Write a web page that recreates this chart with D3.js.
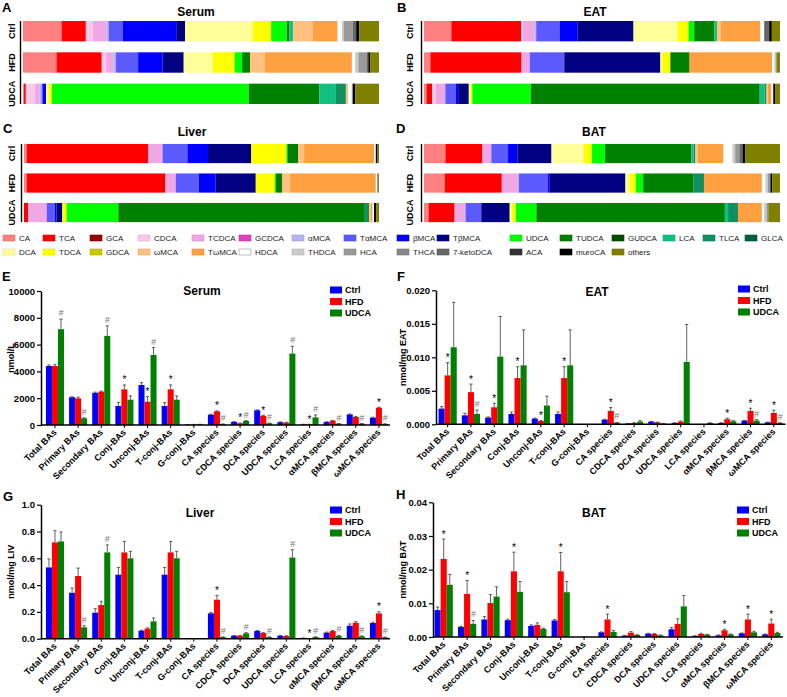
<!DOCTYPE html>
<html><head><meta charset="utf-8">
<script src="https://cdn.jsdelivr.net/npm/d3@7"></script>
<style>
body{margin:0;background:#fff}
svg{display:block}
text{font-family:"Liberation Sans",Arial,Helvetica,sans-serif}
</style>
</head><body>
<svg id="c" width="787" height="697"></svg>
<script>
// ---------- DATA ----------
const species = ["CA","TCA","GCA","CDCA","TCDCA","GCDCA","αMCA","TαMCA","βMCA","TβMCA","DCA","TDCA","GDCA","UDCA","TUDCA","GUDCA","LCA","TLCA","GLCA","ωMCA","TωMCA","HDCA","THDCA","HCA","THCA","7-ketoDCA","ACA","muroCA","others"];
const groups = ["Ctrl","HFD","UDCA"];

// composition (%), in species order
const serumCtrlPct = [10.8,6.8,0,1.9,3.9,0,0.6,3.9,15.0,2.5,18.9,5.2,0,4.4,0.7,0,1.0,0,0,5.5,7.0,1.2,0.5,2.6,0,0.9,0,0.9,5.5];
const serumHFDPct  = [9.4,12.7,0,1.2,2.1,0,0.7,6.2,6.9,5.9,8.2,6.1,0,2.1,2.2,0,0,0,0,4.2,24.4,0.9,0.9,2.3,0,0.5,0,0.5,2.5];
const serumUDCAPct = [0.3,0.5,0,2.5,1.4,0,0.5,0.3,1.0,0,0.7,0.9,0,55.3,19.8,0,4.7,2.8,0,0.7,0,0.9,0.3,0,0,0,0,0.7,6.7];
const eatCtrlPct   = [7.7,19.7,0,0.5,3.2,0,0.5,6.7,5.0,15.7,12.4,3.1,0,1.6,5.7,0,0.7,0,0,1.1,11.1,1.1,0,0,0,1.4,0,0.75,2.3];
const eatHFDPct    = [1.8,25.6,0,0,2.3,0,0,9.7,0,27.0,0.5,2.3,0,0,5.4,0,0,0,0,0,23.2,0.6,0.4,0.3,0,0,0,0,0.9];
const eatUDCAPct   = [0.7,1.6,0,0.9,2.8,0,0,2.9,0.7,3.0,0.5,0.5,0,16.4,64.4,0,1.4,0.5,0,0.3,1.1,0.5,0,0,0,0,0,0.5,1.4];
const liverCtrlPct = [0.75,34.3,0,0,4.0,0,0,7.0,5.8,12.2,0,9.9,0,0.3,3.0,0,0,0,0,1.7,19.7,0.5,0,0,0,0,0,0.5,0.4];
const liverHFDPct  = [0.75,39.2,0,0,2.9,0,0,6.5,4.8,11.3,0,5.4,0,0.3,1.8,0,0,0,0,2.2,24.2,0.5,0,0,0,0,0,0.2,0.2];
const liverUDCAPct = [0,1.2,0,0,5.2,0,0,2.3,0.5,1.6,0,1.2,0,14.6,69.5,0,0,1.2,0,0.5,0.5,0.4,0,0,0,0,0,0.6,0.8];
const batCtrlPct   = [6.0,10.4,0,0,2.5,0,0,4.7,2.6,9.6,9.1,2.2,0,3.7,24.2,0,0.7,0.5,0,0.6,7.3,2.5,0.75,1.2,0,0.9,0,0.7,9.8];
const batHFDPct    = [5.8,16.1,0,0,4.8,0,0,8.2,0.5,21.3,1.2,1.7,0,2.1,14.2,0,0,2.9,0,0,16.3,1.0,0.7,0.7,0,0,0,0.5,2.2];
const batUDCAPct   = [1.3,7.3,0,0,3.1,0,0,4.4,0,8.0,0.5,1.2,0,5.8,53.0,0,0.9,2.8,0,0,6.7,0.6,0.7,0.5,0,0,0,0,3.3];

const legendRow1 = ["CA","TCA","GCA","CDCA","TCDCA","GCDCA","αMCA","TαMCA","βMCA","TβMCA","UDCA","TUDCA","GUDCA","LCA","TLCA","GLCA"];
const legendRow2 = ["DCA","TDCA","GDCA","ωMCA","TωMCA","HDCA","THDCA","HCA","THCA","7-ketoDCA","ACA","muroCA","others"];

const categories = ["Total BAs","Primary BAs","Secondary BAs","Conj-BAs","Unconj-BAs","T-conj-BAs","G-conj-BAs","CA species","CDCA species","DCA species","UDCA species","LCA species","αMCA species","βMCA species","ωMCA species"];

const serumCtrl = [4400,2070,2400,1420,2990,1420,30,770,230,1100,210,50,220,790,550];
const serumCtrlSem = [80,40,50,270,170,250,5,30,20,30,20,5,20,30,30];
const serumHFD = [4400,1990,2490,2660,1740,2660,40,1020,130,680,180,50,320,600,1290];
const serumHFDSem = [100,90,40,330,380,330,5,30,20,40,20,5,20,40,40];
const serumUDCA = [7150,500,6650,1890,5230,1890,50,70,300,130,5330,570,100,100,80];
const serumUDCASem = [750,40,750,280,550,280,5,10,30,10,550,180,10,10,10];
const serumSigHFD  = ["","","","*","*","*","","*","*","*","","*","","","*"];
const serumSigUDCA = ["#","#","#","","#","","","#","#","#","#","#","#","#","#"];

const eatCtrl = [0.00234,0.00134,0.001,0.00154,0.00085,0.00154,0,0.0007,0.0001,0.0004,0.0002,0.00005,0.0002,0.00055,0.0003];
const eatCtrlSem = [0.0003,0.0003,0.0001,0.0003,0.00008,0.0003,0,0.00005,0.00002,0.00003,0.00003,0,0.00003,0.00005,0.00003];
const eatHFD = [0.0073,0.0048,0.00254,0.0069,0.0005,0.0069,0.00005,0.002,0.0002,0.0003,0.0004,0,0.00075,0.002,0.0017];
const eatHFDSem = [0.0019,0.0012,0.0006,0.0017,0.00005,0.0017,0,0.0005,0.00003,0.00003,0.0001,0,0.00015,0.0004,0.0004];
const eatUDCA = [0.0115,0.00154,0.0101,0.0088,0.0028,0.0088,0,0.00025,0.0004,0.0001,0.0093,0.0002,0.00045,0.00055,0.0002];
const eatUDCASem = [0.0067,0.0006,0.006,0.0053,0.0014,0.0053,0,0.00003,0.00015,0.00002,0.0056,0.00003,0.0001,0.00015,0.00003];
const eatSigHFD  = ["*","*","*","*","*","*","","*","","","","","*","*","*"];
const eatSigUDCA = ["","#","","","","","","#","","","","","","#","#"];

const liverCtrl = [0.532,0.343,0.194,0.478,0.06,0.478,0,0.189,0.022,0.057,0.022,0.005,0.045,0.097,0.117];
const liverCtrlSem = [0.063,0.035,0.03,0.054,0.004,0.054,0,0.006,0.002,0.004,0.002,0.001,0.004,0.013,0.006];
const liverHFD = [0.719,0.468,0.251,0.644,0.075,0.644,0,0.291,0.022,0.042,0.02,0,0.057,0.119,0.189];
const liverHFDSem = [0.087,0.059,0.028,0.082,0.006,0.082,0,0.032,0.002,0.003,0.002,0,0.004,0.008,0.012];
const liverUDCA = [0.726,0.085,0.644,0.6,0.129,0.6,0,0.012,0.04,0.012,0.605,0.012,0.022,0.018,0.01];
const liverUDCASem = [0.07,0.012,0.056,0.052,0.025,0.052,0,0.002,0.005,0.002,0.059,0.002,0.003,0.003,0.002];
const liverSigHFD  = ["","","","","","","","*","","","","*","","","*"];
const liverSigUDCA = ["","#","#","","","","","#","#","#","#","#","#","#","#"];

const batCtrl = [0.008,0.003,0.0052,0.005,0.0033,0.0049,0,0.0014,0.0004,0.001,0.0023,0.0003,0.0005,0.0011,0.0008];
const batCtrlSem = [0.0009,0.0002,0.0009,0.0003,0.0003,0.0003,0,0.0001,0.0001,0.0001,0.0005,0.0001,0.0001,0.0001,0.0001];
const batHFD = [0.0232,0.0128,0.0101,0.0195,0.0036,0.0195,0.0001,0.0052,0.0013,0.0009,0.0039,0.0009,0.002,0.0052,0.004];
const batHFDSem = [0.0059,0.004,0.0025,0.0057,0.0006,0.0056,0,0.0016,0.0003,0.0001,0.0015,0.0002,0.0003,0.0016,0.0013];
const batUDCA = [0.0155,0.0039,0.012,0.0134,0.0024,0.0133,0,0.0015,0.0006,0.0005,0.0091,0.0007,0.0008,0.0014,0.0012];
const batUDCASem = [0.0031,0.001,0.0029,0.0031,0.0002,0.0032,0,0.0004,0.0001,0.0001,0.0032,0.0001,0.0001,0.0003,0.0002];
const batSigHFD  = ["*","*","","*","","*","","*","","","","","*","*","*"];
const batSigUDCA = ["","#","","","","","","","","","","","","",""];

const serumTicks = [0,2000,4000,6000,8000,10000];
const eatTicks = [0,0.005,0.010,0.015,0.020];
const liverTicks = [0,0.2,0.4,0.6,0.8,1.0];
const batTicks = [0,0.01,0.02,0.03,0.04];

// ---------- STYLES ----------
const speciesColors = ["#ff8080","#ff0000","#990000","#f8c8e8","#f0a8e4","#e040c0","#b4b4f0","#5a5aff","#0000ff","#000080","#ffff99","#ffff00","#c8c800","#00ff00","#008000","#004c00","#10c080","#109060","#006040","#ffc080","#ffa040","#ffffff","#cccccc","#999999","#888888","#666666","#333333","#000000","#808000"];
const barColors = ["#0000ff","#ff0000","#008000"];
const color = d3.scaleOrdinal().domain(species).range(speciesColors);

const svg = d3.select("#c");
svg.append("defs").append("clipPath").attr("id","clipL")
  .append("rect").attr("x",0).attr("y",0).attr("width",390).attr("height",697);

function letter(t,x,y){
  svg.append("text").attr("x",x).attr("y",y).text(t)
    .attr("font-size",13).attr("font-weight","bold");
}

// ---------- STACKED COMPOSITION PANELS ----------
function stackPanel(o){
  const g = svg.append("g");
  const y = d3.scaleBand().domain(groups).range([o.y0,o.y1]).paddingInner(0.35).paddingOuter(0.175);
  const x = d3.scaleLinear().domain([0,100]).range([o.x0,o.x1]);
  const rows = o.data.map((arr,i)=>{
    const t = d3.sum(arr); const r = {group:groups[i]};
    species.forEach((s,j)=>r[s]=arr[j]/t*100); return r;
  });
  const series = d3.stack().keys(species)(rows);
  g.selectAll("g.s").data(series).join("g").attr("fill",d=>color(d.key))
    .selectAll("rect").data(d=>d.filter(p=>p[1]-p[0]>0)).join("rect")
    .attr("x",p=>x(p[0])).attr("width",p=>Math.max(0,x(p[1])-x(p[0])))
    .attr("y",p=>y(p.data.group)).attr("height",y.bandwidth());
  g.append("line").attr("x1",o.x0-2.5).attr("x2",o.x0-2.5)
    .attr("y1",y("Ctrl")).attr("y2",y("UDCA")+y.bandwidth())
    .attr("stroke","#000").attr("stroke-width",1.4);
  g.selectAll("text.r").data(groups).join("text")
    .attr("transform",d=>`translate(${o.lx},${y(d)+y.bandwidth()/2}) rotate(-90)`)
    .attr("text-anchor","middle").attr("dy","0.35em")
    .attr("font-size",9).attr("font-weight","bold").text(d=>d);
  g.append("text").attr("x",o.tx).attr("y",o.ty).attr("text-anchor","middle")
    .attr("font-size",12).attr("font-weight","bold").text(o.title);
}

stackPanel({data:[serumCtrlPct,serumHFDPct,serumUDCAPct],x0:23,x1:379,y0:15.5,y1:109.5,lx:12,title:"Serum",tx:196,ty:15.5});
stackPanel({data:[eatCtrlPct,eatHFDPct,eatUDCAPct],x0:424,x1:780,y0:15.5,y1:109.5,lx:410,title:"EAT",tx:595,ty:15.5});
stackPanel({data:[liverCtrlPct,liverHFDPct,liverUDCAPct],x0:24,x1:379,y0:138.8,y1:227.3,lx:12,title:"Liver",tx:192,ty:136});
stackPanel({data:[batCtrlPct,batHFDPct,batUDCAPct],x0:424,x1:780,y0:138.8,y1:227.3,lx:410,title:"BAT",tx:594,ty:136});

letter("A",2,12); letter("B",397,12); letter("C",3,133); letter("D",396,133);

// ---------- SPECIES LEGEND ----------
const legendColX = [3,43,90,138,192,239,292,344,397,437,510,560,612,663,703,745];
function legendRow(names,yc){
  const g = svg.append("g").selectAll("g").data(names).join("g")
    .attr("transform",(d,i)=>`translate(${legendColX[i]},${yc})`);
  g.append("rect").attr("x",0).attr("y",-3).attr("width",12).attr("height",6)
    .attr("fill",d=>color(d)).attr("stroke",d=>d==="HDCA"?"#999":d3.color(color(d)).darker(0.4)).attr("stroke-width",0.6);
  g.append("text").attr("x",16).attr("dy","0.35em").attr("font-size",8).attr("fill","#222").text(d=>d);
}
legendRow(legendRow1,238);
legendRow(legendRow2,252);

// ---------- GROUPED BAR PANELS ----------
function barPanel(o){
  const g = svg.append("g");
  if(o.clip) g.attr("clip-path","url(#clipL)");
  const x = d3.scaleBand().domain(categories).range([o.x0,o.x1]).paddingInner(0.22).paddingOuter(0.11);
  const xi = d3.scaleBand().domain(groups).range([0,x.bandwidth()]);
  const y = d3.scaleLinear().domain([0,o.ticks[o.ticks.length-1]]).range([o.yb,o.yt]);
  groups.forEach((gr,k)=>{
    const data = categories.map((c,i)=>({c,v:o.mean[k][i],e:o.sem[k][i],s:o.sig[k]?o.sig[k][i]:""}));
    const cx = d=>x(d.c)+xi(gr)+xi.bandwidth()/2;
    g.append("g").selectAll("rect").data(data).join("rect")
      .attr("x",d=>x(d.c)+xi(gr)).attr("width",xi.bandwidth())
      .attr("y",d=>y(d.v)).attr("height",d=>y(0)-y(d.v)).attr("fill",barColors[k]);
    const eg = g.append("g").attr("stroke","#3a3a3a").attr("stroke-width",0.8);
    const ed = data.filter(d=>d.e>0);
    eg.selectAll("line.v").data(ed).join("line").attr("x1",cx).attr("x2",cx)
      .attr("y1",d=>y(d.v)).attr("y2",d=>y(d.v+d.e));
    eg.selectAll("line.c").data(ed).join("line").attr("x1",d=>cx(d)-1.6).attr("x2",d=>cx(d)+1.6)
      .attr("y1",d=>y(d.v+d.e)).attr("y2",d=>y(d.v+d.e));
    g.append("g").selectAll("text").data(data.filter(d=>d.s)).join("text")
      .attr("x",cx).attr("y",d=>y(d.v+d.e)-(d.s==="*"?1.5:3))
      .attr("text-anchor","middle")
      .attr("font-size",d=>d.s==="*"?10:9)
      .attr("font-style",d=>d.s==="#"?"italic":"normal")
      .attr("fill",d=>d.s==="*"?"#000":"#777").text(d=>d.s);
  });
  // y axis
  const ya = g.append("g").attr("transform",`translate(${o.ax},0)`)
    .call(d3.axisLeft(y).tickValues(o.ticks).tickFormat(d3.format(o.fmt)).tickSize(4).tickSizeOuter(0));
  ya.select(".domain").attr("stroke-width",1.5);
  ya.selectAll(".tick line").attr("stroke-width",1.2);
  ya.selectAll(".tick text").attr("font-size",9.5).attr("font-weight","bold").attr("x",-6)
    .style("font-family",'"Liberation Sans",Arial,sans-serif');
  // x axis
  const xa = g.append("g").attr("transform",`translate(0,${o.yb})`)
    .call(d3.axisBottom(x).tickSize(3).tickSizeOuter(0));
  xa.select(".domain").remove();
  xa.selectAll(".tick line").attr("stroke-width",1);
  xa.selectAll(".tick text").attr("font-size",9).attr("font-weight","bold")
    .style("font-family",'"Liberation Sans",Arial,sans-serif')
    .attr("text-anchor","end").attr("x",-4).attr("y",4).attr("dy","0.35em")
    .attr("transform","rotate(-45)");
  g.append("line").attr("x1",o.ax).attr("x2",o.x1).attr("y1",o.yb).attr("y2",o.yb)
    .attr("stroke","#000").attr("stroke-width",1.5);
  // title
  g.append("text").attr("x",o.tx).attr("y",o.ty).attr("text-anchor","middle")
    .attr("font-size",12).attr("font-weight","bold").text(o.title);
  // y label
  g.append("text").attr("transform",`translate(${o.lx},${(o.yb+o.yt)/2}) rotate(-90)`)
    .attr("text-anchor","middle").attr("dy","0.35em")
    .attr("font-size",9).attr("font-weight","bold").text(o.ylabel);
  // legend
  const lg = svg.append("g").selectAll("g").data(groups).join("g")
    .attr("transform",(d,i)=>`translate(${o.legx},${o.legy+i*11.5})`);
  lg.append("rect").attr("x",0).attr("y",-3.5).attr("width",12).attr("height",7).attr("fill",(d,i)=>barColors[i]);
  lg.append("text").attr("x",15).attr("dy","0.35em").attr("font-size",9).attr("font-weight","bold").text(d=>d);
}

barPanel({mean:[serumCtrl,serumHFD,serumUDCA],sem:[serumCtrlSem,serumHFDSem,serumUDCASem],sig:[null,serumSigHFD,serumSigUDCA],
  ticks:serumTicks,fmt:"d",x0:43.4,x1:390.5,ax:41,yb:425,yt:291,clip:true,title:"Serum",tx:202,ty:295,ylabel:"nmol/L",lx:11,legx:330,legy:290});
barPanel({mean:[eatCtrl,eatHFD,eatUDCA],sem:[eatCtrlSem,eatHFDSem,eatUDCASem],sig:[null,eatSigHFD,eatSigUDCA],
  ticks:eatTicks,fmt:".3f",x0:436,x1:785.5,ax:436,yb:424.3,yt:290.3,clip:false,title:"EAT",tx:597,ty:296,ylabel:"nmol/mg EAT",lx:403,legx:738,legy:289});
barPanel({mean:[liverCtrl,liverHFD,liverUDCA],sem:[liverCtrlSem,liverHFDSem,liverUDCASem],sig:[null,liverSigHFD,liverSigUDCA],
  ticks:liverTicks,fmt:".1f",x0:43.4,x1:390.5,ax:41,yb:638.7,yt:504.7,clip:true,title:"Liver",tx:200,ty:517,ylabel:"nmol/mg LIV",lx:11,legx:330,legy:510});
barPanel({mean:[batCtrl,batHFD,batUDCA],sem:[batCtrlSem,batHFDSem,batUDCASem],sig:[null,batSigHFD,batSigUDCA],
  ticks:batTicks,fmt:".2f",x0:432,x1:783,ax:433,yb:637,yt:502.3,clip:false,title:"BAT",tx:594,ty:517,ylabel:"nmol/mg BAT",lx:403,legx:737,legy:510});

letter("E",2,281); letter("F",397,281); letter("G",3,501); letter("H",396,499);
</script>
</body></html>
